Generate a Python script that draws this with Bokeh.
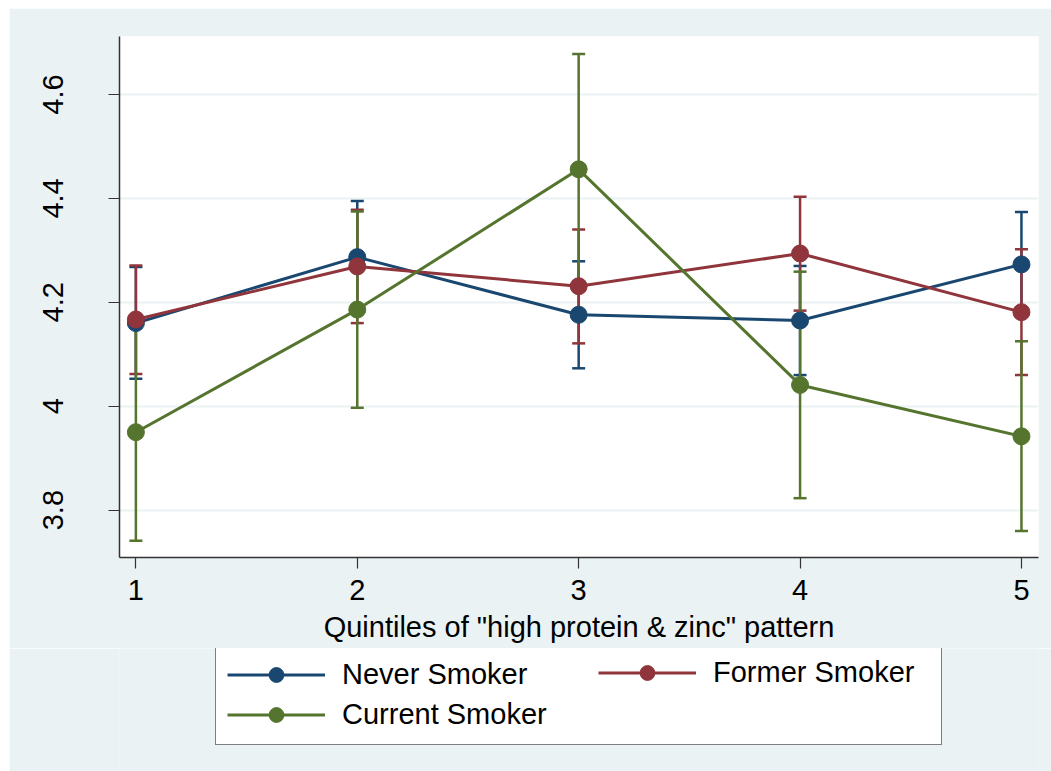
from bokeh.plotting import figure
from bokeh.layouts import column
from bokeh.models import (Whisker, TeeHead, ColumnDataSource, Legend, LegendItem,
                          FixedTicker, Range1d)
from bokeh.embed import file_html
from bokeh.resources import INLINE

# Quintiles of the dietary pattern and the mean outcome with 95% CI per smoking group
quintiles = [1, 2, 3, 4, 5]

never_mean = [4.160, 4.287, 4.176, 4.165, 4.273]
never_lo = [4.053, 4.179, 4.073, 4.060, 4.172]
never_hi = [4.268, 4.395, 4.279, 4.270, 4.374]

former_mean = [4.167, 4.269, 4.231, 4.294, 4.181]
former_lo = [4.062, 4.160, 4.121, 4.184, 4.060]
former_hi = [4.271, 4.378, 4.340, 4.403, 4.302]

current_mean = [3.950, 4.186, 4.456, 4.041, 3.942]
current_lo = [3.741, 3.997, 4.234, 3.823, 3.760]
current_hi = [4.159, 4.375, 4.678, 4.259, 4.125]

y_ticks = [3.8, 4.0, 4.2, 4.4, 4.6]
y_tick_labels = ["3.8", "4", "4.2", "4.4", "4.6"]
x_ticks = [1, 2, 3, 4, 5]

series = [
    ("Never Smoker", never_mean, never_lo, never_hi, "#1a476f"),
    ("Former Smoker", former_mean, former_lo, former_hi, "#90353b"),
    ("Current Smoker", current_mean, current_lo, current_hi, "#55752f"),
]

BG = "#eaf2f3"
FONT = "Liberation Sans"

# ---- main plot -------------------------------------------------------------
p = figure(width=1042, height=640, margin=(8, 0, 0, 9),
           output_backend="svg", toolbar_location=None,
           x_range=Range1d(0.926, 5.077), y_range=Range1d(3.7088, 4.7117),
           min_border_left=110, min_border_right=13,
           min_border_top=28, min_border_bottom=91)

p.background_fill_color = "white"
p.border_fill_color = BG
p.outline_line_color = None

# grid: horizontal only, in the background tint
p.xgrid.grid_line_color = None
p.ygrid.grid_line_color = BG
p.ygrid.grid_line_width = 2
p.ygrid.ticker = FixedTicker(ticks=y_ticks)

for ax in (p.xaxis[0], p.yaxis[0]):
    ax.axis_line_color = "#333333"
    ax.axis_line_width = 1.5
    ax.major_tick_line_color = "#333333"
    ax.major_tick_line_width = 1.2
    ax.major_tick_in = 0
    ax.major_tick_out = 11
    ax.minor_tick_line_color = None
    ax.major_label_text_font = FONT
    ax.major_label_text_font_size = "29px"
    ax.major_label_text_color = "black"

p.xaxis.ticker = FixedTicker(ticks=x_ticks)
p.xaxis.major_label_standoff = 11
p.xaxis.axis_label = 'Quintiles of "high protein & zinc" pattern'
p.xaxis.axis_label_text_font = FONT
p.xaxis.axis_label_text_font_size = "29px"
p.xaxis.axis_label_text_font_style = "normal"
p.xaxis.axis_label_text_color = "black"
p.xaxis.axis_label_standoff = 8

p.yaxis.ticker = FixedTicker(ticks=y_ticks)
p.yaxis.major_label_overrides = {t: l for t, l in zip(y_ticks, y_tick_labels)}
p.yaxis.major_label_orientation = "vertical"
p.yaxis.major_label_standoff = 45

# confidence intervals first, then connected means on top
for name, mean, lo, hi, color in series:
    src = ColumnDataSource(dict(x=quintiles, lo=lo, hi=hi))
    w = Whisker(base="x", lower="lo", upper="hi", source=src,
                line_color=color, line_width=2.5,
                upper_head=TeeHead(size=13, line_color=color, line_width=2.5),
                lower_head=TeeHead(size=13, line_color=color, line_width=2.5))
    p.add_layout(w)

for name, mean, lo, hi, color in series:
    src = ColumnDataSource(dict(x=quintiles, y=mean))
    p.line("x", "y", source=src, line_color=color, line_width=3)
    p.scatter("x", "y", source=src, size=17, fill_color=color,
              line_color=color, line_width=1)

# ---- legend strip under the plot ----------------------------------------
# its frame lines up with the plot frame above (x from 119 to 1038 in the page)
lf = figure(width=1042, height=123, margin=(0, 0, 0, 9),
            output_backend="svg", toolbar_location=None,
            x_range=Range1d(0, 0.5), y_range=Range1d(0, 1),
            x_axis_type=None, y_axis_type=None, min_border=0)
lf.background_fill_color = BG
lf.border_fill_color = BG
lf.outline_line_color = None
lf.xgrid.grid_line_color = None
lf.ygrid.grid_line_color = None

# key renderers share the series data; it lies outside this strip's ranges
items = {}
for name, mean, lo, hi, color in series:
    key_src = ColumnDataSource(dict(x=quintiles, y=mean))
    ln = lf.line("x", "y", source=key_src, line_color=color, line_width=3)
    sc = lf.scatter("x", "y", source=key_src, size=17, fill_color=color,
                    line_color=color, line_width=1)
    items[name] = LegendItem(label=name, renderers=[ln, sc])


def style_legend(leg):
    leg.label_text_font = FONT
    leg.label_text_font_size = "29px"
    leg.label_text_color = "black"
    leg.glyph_width = 98
    leg.glyph_height = 37
    leg.label_standoff = 17
    leg.label_height = 30
    leg.spacing = 3
    leg.padding = 10
    leg.margin = 0


# boxed legend holding the first column
leg_a = Legend(items=[items["Never Smoker"], items["Current Smoker"]],
               location=(96, 26))
style_legend(leg_a)
leg_a.padding = 11
leg_a.label_width = 588
leg_a.border_line_color = "black"
leg_a.border_line_width = 1
leg_a.background_fill_color = "white"
leg_a.background_fill_alpha = 1
lf.add_layout(leg_a, "center")

# second column, drawn inside the same box
leg_b = Legend(items=[items["Former Smoker"]], location=(479, 80))
style_legend(leg_b)
leg_b.border_line_color = None
leg_b.background_fill_alpha = 0
lf.add_layout(leg_b, "center")

layout = column(p, lf, spacing=0)
open("out.html", "w").write(file_html(layout, INLINE))
